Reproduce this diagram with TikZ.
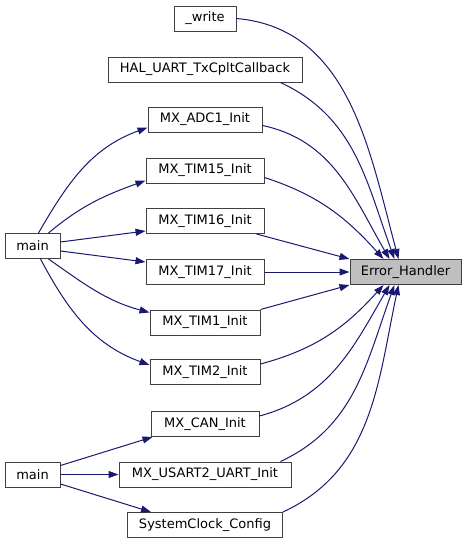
\documentclass[tikz,border=0pt]{standalone}
\usepackage{fontspec}
\setmainfont{DejaVu Sans}
\usetikzlibrary{arrows.meta}
\definecolor{edgeblue}{RGB}{25,25,112}
\definecolor{boxline}{RGB}{64,64,64}
\definecolor{hlgray}{RGB}{191,191,191}

\begin{document}
\begin{tikzpicture}[
  x=1pt, y=1pt,
  fn/.style={rectangle, draw=boxline, line width=1pt, fill=white, minimum height=25pt, inner sep=0pt, font=\fontsize{13}{15}\selectfont},
  hl/.style={fn, fill=hlgray},
  call/.style={draw=edgeblue, line width=1pt, -{Triangle[length=10pt, width=7pt]}}
]
\useasboundingbox (0,0) rectangle (467,-544);

% callers of the callers
\node[fn, minimum width=55pt] (main1) at (32.5,-246) {main};
\node[fn, minimum width=55pt] (main2) at (32.5,-474.5) {main};

% direct callers
\node[fn, minimum width=62pt] (write) at (205,-18.5) {\_write};
\node[fn, minimum width=194pt] (hal) at (205,-69.5) {HAL\_UART\_TxCpltCallback};
\node[fn, minimum width=114pt] (adc) at (205,-119.5) {MX\_ADC1\_Init};
\node[fn, minimum width=118pt] (tim15) at (205,-170.5) {MX\_TIM15\_Init};
\node[fn, minimum width=118pt] (tim16) at (205,-221) {MX\_TIM16\_Init};
\node[fn, minimum width=118pt] (tim17) at (205,-272) {MX\_TIM17\_Init};
\node[fn, minimum width=110pt] (tim1) at (205,-322.5) {MX\_TIM1\_Init};
\node[fn, minimum width=110pt] (tim2) at (205,-372) {MX\_TIM2\_Init};
\node[fn, minimum width=108pt] (can) at (205,-424) {MX\_CAN\_Init};
\node[fn, minimum width=172pt] (usart) at (205,-474.5) {MX\_USART2\_UART\_Init};
\node[fn, minimum width=155pt] (sysclk) at (205,-525) {SystemClock\_Config};

% callee
\node[hl, minimum width=111pt] (eh) at (405.5,-272) {Error\_Handler};

% main -> init functions
\draw[call] ([xshift=6pt]main1.north) to[out=60, in=200] ([yshift=-8pt]adc.west);
\draw[call] ([xshift=16pt]main1.north) to[out=40, in=200] ([yshift=-10pt]tim15.west);
\draw[call] ([yshift=4pt]main1.east) -- ([yshift=-10pt]tim16.west);
\draw[call] ([yshift=-5pt]main1.east) -- ([yshift=10pt]tim17.west);
\draw[call] ([xshift=16pt]main1.south) to[out=-35, in=165] ([yshift=10pt]tim1.west);
\draw[call] ([xshift=8pt]main1.south) to[out=-62, in=160] ([yshift=7pt]tim2.west);

\draw[call] ([yshift=9pt]main2.east) -- ([xshift=2pt]can.south west);
\draw[call] (main2.east) -- (usart.west);
\draw[call] ([yshift=-9.5pt]main2.east) -- ([xshift=24pt]sysclk.north west);

% everything -> Error_Handler
\draw[call] (write.east) to[out=-5, in=105] ([xshift=-7pt]eh.north);
\draw[call] ([xshift=-22pt]hal.south east) to[out=-25, in=110] ([xshift=-11pt]eh.north);
\draw[call] ([yshift=-6pt]adc.east) to[out=-12, in=120] ([xshift=-16pt]eh.north);
\draw[call] ([yshift=-7pt]tim15.east) to[out=-18, in=132] ([xshift=-22pt]eh.north);
\draw[call] ([xshift=-8pt]tim16.south east) -- (eh.north west);
\draw[call] (tim17.east) -- (eh.west);
\draw[call] (tim1.north east) -- (eh.south west);
\draw[call] ([yshift=8pt]tim2.east) to[out=15, in=-132] ([xshift=-22pt]eh.south);
\draw[call] ([yshift=8pt]can.east) to[out=15, in=-120] ([xshift=-16pt]eh.south);
\draw[call] ([xshift=-11pt]usart.north east) to[out=25, in=-110] ([xshift=-11pt]eh.south);
\draw[call] (sysclk.north east) to[out=25, in=-102] ([xshift=-7pt]eh.south);

\end{tikzpicture}
\end{document}
